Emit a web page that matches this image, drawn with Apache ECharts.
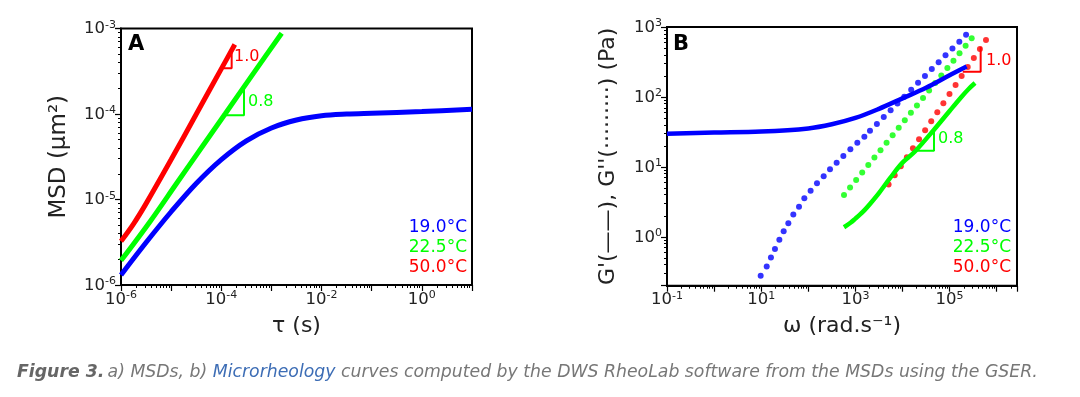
<!DOCTYPE html>
<html>
<head>
<meta charset="utf-8">
<script src="https://cdn.jsdelivr.net/npm/echarts@6/dist/echarts.min.js"></script>
<style>
  html, body { margin: 0; padding: 0; background: #fff; }
  #chart { width: 1080px; height: 397px; }
</style>
</head>
<body>
<div id="chart"></div>
<script>
// ---- panel A : MSD vs tau ----
const tauBlue = [1e-6, 3.16e-6, 1e-5, 3.16e-5, 1e-4, 3.16e-4, 1e-3, 3.16e-3, 1e-2, 3.16e-2, 0.1, 1, 10];
const msdBlue = [1.31e-6, 3.14e-6, 7.19e-6, 1.54e-5, 2.93e-5, 4.86e-5, 6.87e-5, 8.51e-5, 9.55e-5, 1.0e-4, 1.023e-4, 1.067e-4, 1.135e-4];
const tauGreen = [1e-6, 3.78e-6, 1.29e-5, 4.39e-5, 1.19e-4, 4.37e-4, 1.6e-3];
const msdGreen = [1.93e-6, 5.5e-6, 1.55e-5, 4.34e-5, 1.0e-4, 2.99e-4, 8.8e-4];
const tauRed = [1e-6, 1.78e-6, 3.16e-6, 1e-5, 3.16e-5, 1e-4, 1.86e-4];
const msdRed = [3.24e-6, 5.19e-6, 8.95e-6, 2.93e-5, 9.93e-5, 3.37e-4, 6.5e-4];
// slope triangles (A)
const triRedTauA = [1.1e-4, 1.61e-4, 1.61e-4];
const triRedMsdA = [3.42e-4, 3.42e-4, 5.36e-4];
const triGreenTauA = [1.19e-4, 2.84e-4, 2.84e-4];
const triGreenMsdA = [9.7e-5, 9.7e-5, 2.09e-4];

// ---- panel B : G', G'' vs omega ----
const wBlueG1 = [0.1, 1, 10, 100, 316, 1000, 3160, 1e4, 3.16e4, 1e5, 2.3e5];
const gBlueG1 = [29.8, 30.9, 32.0, 35.5, 40.7, 50.1, 67.6, 95.5, 135, 204, 272];
const wGreenG1 = [573, 800, 1000, 1260, 1580, 2040, 3160, 5440, 10000, 18400, 46700, 1e5, 1.78e5, 2.51e5, 3.47e5];
const gGreenG1 = [1.37, 1.6, 1.82, 2.09, 2.43, 2.95, 4.22, 6.9, 11.5, 16.6, 34, 63, 100, 129, 158];

const wBlueG2 = [9.75, 13.1, 16.1, 19.6, 24.3, 30.0, 37.7, 48.1, 63.5, 82.4, 112, 153, 212, 289, 400, 555, 782,
  1100, 1550, 2040, 2860, 4000, 5600, 7820, 10900, 15300, 21400, 30000, 41900, 58600, 82000, 115000, 161000, 224000];
const gBlueG2 = [0.277, 0.377, 0.507, 0.667, 0.906, 1.20, 1.56, 2.08, 2.70, 3.56, 4.57, 5.82, 7.33, 9.23, 11.5, 14.3, 17.8,
  22.1, 27.0, 32.8, 41.1, 51.5, 64.6, 80.9, 101, 127, 159, 200, 250, 313, 393, 492, 617, 773];
const wGreenG2 = [573, 771, 1038, 1396, 1879, 2535, 3412, 4592, 6180, 8318, 11190, 15070, 20280, 27290, 36730,
  49550, 66680, 89740, 120800, 162600, 218800, 294400];
const gGreenG2 = [3.97, 5.08, 6.49, 8.30, 10.6, 13.6, 17.3, 22.2, 28.4, 36.2, 46.3, 59.3, 75.7, 96.8, 124,
  158, 202, 259, 330, 423, 541, 690];
const wRedG2 = [5070, 6830, 9200, 12390, 16680, 22460, 30270, 40740, 54830, 73790, 99540, 134000, 180300,
  242700, 327300, 440600, 592900];
const gRedG2 = [5.62, 7.57, 10.2, 13.7, 18.5, 24.8, 33.4, 45.0, 60.5, 81.5, 110, 148, 199, 267, 361, 485, 653];
// slope triangles (B)
const triRedWB = [1.9e5, 4.57e5, 4.57e5];
const triRedGB = [230, 230, 523];
const triGreenWB = [17500, 46700, 46700];
const triGreenGB = [17.0, 17.0, 34.0];

const legendLabels = ['19.0°C', '22.5°C', '50.0°C'];
const BLUE = '#0000ff', GREEN = '#00ff00', RED = '#ff0000';
const FONT = 'DejaVu Sans';
const INK = '#222';

const zip = (xs, ys) => xs.map((x, i) => [x, ys[i]]);

function powLabel(parity) {
    return function (v) {
        const e = Math.log10(v);
        const r = Math.round(e);
        if (Math.abs(e - r) > 1e-6) return '';
        if (parity !== null && Math.abs(r % 2) !== parity) return '';
        return '{b|10}{s|' + r + '}';
    };
}
const labelRich = {
    b: { fontSize: 16.5, fontFamily: FONT, color: INK, verticalAlign: 'bottom' },
    s: { fontSize: 11, fontFamily: FONT, color: INK, verticalAlign: 'top', padding: [0, 0, 7, 0] }
};

function logAxis(gridIndex, min, max, parity, extra) {
    return Object.assign({
        type: 'log',
        gridIndex,
        min, max,
        logBase: 10,
        axisLine: { show: true, lineStyle: { color: '#000', width: 2 } },
        axisTick: { show: true, length: 6, lineStyle: { color: '#000', width: 1.2 } },
        minorTick: { show: true, splitNumber: 9, length: 3, lineStyle: { color: '#000', width: 1 } },
        splitLine: { show: false },
        axisLabel: { formatter: powLabel(parity), rich: labelRich, margin: 5 },
        nameTextStyle: { fontFamily: FONT, fontSize: 23, color: INK },
        nameLocation: 'middle'
    }, extra);
}

function curve(xi, yi, xs, ys, color, width) {
    return {
        type: 'line', xAxisIndex: xi, yAxisIndex: yi, data: zip(xs, ys),
        smooth: 0.35, symbol: 'none', lineStyle: { color, width }, z: 3
    };
}
function dots(xi, yi, xs, ys, color) {
    return {
        type: 'scatter', xAxisIndex: xi, yAxisIndex: yi, data: zip(xs, ys),
        symbol: 'circle', symbolSize: 6, itemStyle: { color }, z: 2
    };
}
function tri(xi, yi, xs, ys, color) {
    return {
        type: 'line', xAxisIndex: xi, yAxisIndex: yi, data: zip(xs, ys),
        symbol: 'none', lineStyle: { color, width: 2 }, z: 4
    };
}
function txt(pos, text, color, extra) {
    return Object.assign({ type: 'text', style: Object.assign({ text, fill: color, font: '16px "DejaVu Sans"' }, extra) }, pos);
}

const chart = echarts.init(document.getElementById('chart'));
chart.setOption({
    animation: false,
    grid: [
        { left: 121, top: 28.5, width: 351, height: 256.5, show: true, borderColor: '#000', borderWidth: 2 },
        { left: 667, top: 27, width: 350, height: 258.7, show: true, borderColor: '#000', borderWidth: 2 }
    ],
    xAxis: [
        logAxis(0, 1e-6, 10, 0, {
            name: 'τ (s)', nameGap: 30,
            nameTextStyle: { fontFamily: FONT, fontSize: 22, color: INK }
        }),
        logAxis(1, 0.1, 2.7e6, 1, {
            name: 'ω (rad.s⁻¹)', nameGap: 30,
            nameTextStyle: { fontFamily: FONT, fontSize: 22, color: INK }
        })
    ],
    yAxis: [
        logAxis(0, 1e-6, 1e-3, null, { name: 'MSD (µm²)', nameGap: 50 }),
        logAxis(1, 0.2, 1000, null, {
            name: "G'(——), G''(·········) (Pa)", nameGap: 48,
            nameTextStyle: { fontFamily: FONT, fontSize: 22, color: INK }
        })
    ],
    series: [
        curve(0, 0, tauBlue, msdBlue, BLUE, 5),
        curve(0, 0, tauGreen, msdGreen, GREEN, 5),
        curve(0, 0, tauRed, msdRed, RED, 5),
        tri(0, 0, triRedTauA, triRedMsdA, RED),
        tri(0, 0, triGreenTauA, triGreenMsdA, GREEN),
        dots(1, 1, wBlueG2, gBlueG2, BLUE),
        dots(1, 1, wGreenG2, gGreenG2, GREEN),
        dots(1, 1, wRedG2, gRedG2, RED),
        curve(1, 1, wBlueG1, gBlueG1, BLUE, 4.5),
        curve(1, 1, wGreenG1, gGreenG1, GREEN, 4.5),
        tri(1, 1, triRedWB, triRedGB, RED),
        tri(1, 1, triGreenWB, triGreenGB, GREEN)
    ],
    graphic: [
        txt({ left: 128, top: 34 }, 'A', '#000', { font: 'bold 21px "DejaVu Sans"' }),
        txt({ left: 673, top: 34 }, 'B', '#000', { font: 'bold 21px "DejaVu Sans"' }),
        txt({ left: 234, top: 49 }, '1.0', RED),
        txt({ left: 248, top: 94 }, '0.8', GREEN),
        txt({ left: 986, top: 53 }, '1.0', RED),
        txt({ left: 938, top: 131 }, '0.8', GREEN),
        // legends (right aligned colored text)
        txt({ right: 613, top: 219 }, legendLabels[0], BLUE, { font: '17px "DejaVu Sans"' }),
        txt({ right: 613, top: 239 }, legendLabels[1], GREEN, { font: '17px "DejaVu Sans"' }),
        txt({ right: 613, top: 259 }, legendLabels[2], RED, { font: '17px "DejaVu Sans"' }),
        txt({ right: 69, top: 219 }, legendLabels[0], BLUE, { font: '17px "DejaVu Sans"' }),
        txt({ right: 69, top: 239 }, legendLabels[1], GREEN, { font: '17px "DejaVu Sans"' }),
        txt({ right: 69, top: 259 }, legendLabels[2], RED, { font: '17px "DejaVu Sans"' }),
        {
            type: 'text', left: 17, top: 364,
            style: {
                text: '{f|Figure 3.} {n|a) MSDs, b) }{m|Microrheology}{n| curves computed by the DWS RheoLab software from the MSDs using the GSER.}',
                rich: {
                    f: { font: 'italic bold 17.3px "DejaVu Sans"', fill: '#666' },
                    n: { font: 'italic 17.3px "DejaVu Sans"', fill: '#777' },
                    m: { font: 'italic 17.3px "DejaVu Sans"', fill: '#3d6db5' }
                }
            }
        }
    ]
});
</script>
</body>
</html>
